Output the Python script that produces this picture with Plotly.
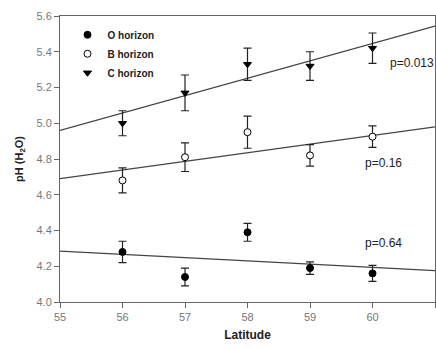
import plotly.graph_objects as go

latitude = [56, 57, 58, 59, 60]
o_ph = [4.28, 4.14, 4.39, 4.19, 4.16]
o_err = [0.06, 0.05, 0.05, 0.035, 0.045]
b_ph = [4.68, 4.81, 4.95, 4.82, 4.925]
b_err = [0.07, 0.08, 0.09, 0.06, 0.06]
c_ph = [5.00, 5.17, 5.33, 5.32, 5.42]
c_err = [0.07, 0.10, 0.09, 0.08, 0.085]

fit_x = [55, 61]
o_fit = [4.285, 4.175]
b_fit = [4.69, 4.98]
c_fit = [4.96, 5.544]

p_labels = ["p=0.013", "p=0.16", "p=0.64"]
p_x = [60.25, 59.85, 59.85]
p_y = [5.335, 4.78, 4.33]

fig = go.Figure()
line_col = "#444444"
for fy in [o_fit, b_fit, c_fit]:
    fig.add_trace(go.Scatter(x=fit_x, y=fy, mode="lines", showlegend=False,
                             line=dict(color=line_col, width=1.2), hoverinfo="skip"))

def series(name, y, err, symbol, fill):
    fig.add_trace(go.Scatter(
        x=latitude, y=y, mode="markers", name="<b>" + name + "</b>",
        error_y=dict(type="data", array=err, color="#222222", thickness=1.2, width=4),
        marker=dict(symbol=symbol, size=7, color=fill, line=dict(color="black", width=1)),
    ))

series("O horizon", o_ph, o_err, "circle", "black")
series("B horizon", b_ph, b_err, "circle", "white")
series("C horizon", c_ph, c_err, "triangle-down", "black")

for t, x, y in zip(p_labels, p_x, p_y):
    fig.add_annotation(x=x, y=y, text=t, showarrow=False, xanchor="left",
                       font=dict(family="Liberation Sans, Arial", size=12, color="#222222"))

axis_common = dict(showgrid=False, zeroline=False, showline=True, linecolor="#666666",
                   linewidth=1, mirror=True, ticks="outside", ticklen=5, tickcolor="#666666",
                   tickfont=dict(family="Liberation Sans, Arial", size=11, color="#777777"))

fig.update_layout(
    width=436, height=349, margin=dict(l=60, r=1, t=16, b=47),
    plot_bgcolor="white", paper_bgcolor="white",
    xaxis=dict(range=[55, 61], tickvals=[55, 56, 57, 58, 59, 60, 61],
               title=dict(text="<b>Latitude</b>", standoff=8,
                          font=dict(family="Liberation Sans, Arial", size=12, color="#222222")),
               **axis_common),
    yaxis=dict(range=[4.0, 5.6], tickvals=[4.0, 4.2, 4.4, 4.6, 4.8, 5.0, 5.2, 5.4, 5.6],
               tickformat=".1f",
               title=dict(text="<b>pH (H<sub>2</sub>O)</b>", standoff=10,
                          font=dict(family="Liberation Sans, Arial", size=11, color="#222222")),
               **axis_common),
    legend=dict(x=0.02, y=0.985, xanchor="left", yanchor="top", bgcolor="rgba(0,0,0,0)",
                font=dict(family="Liberation Sans, Arial", size=10, color="#222222"),
                itemsizing="trace", tracegroupgap=0, itemwidth=30),
    showlegend=True,
)

fig.write_html("out.html")
